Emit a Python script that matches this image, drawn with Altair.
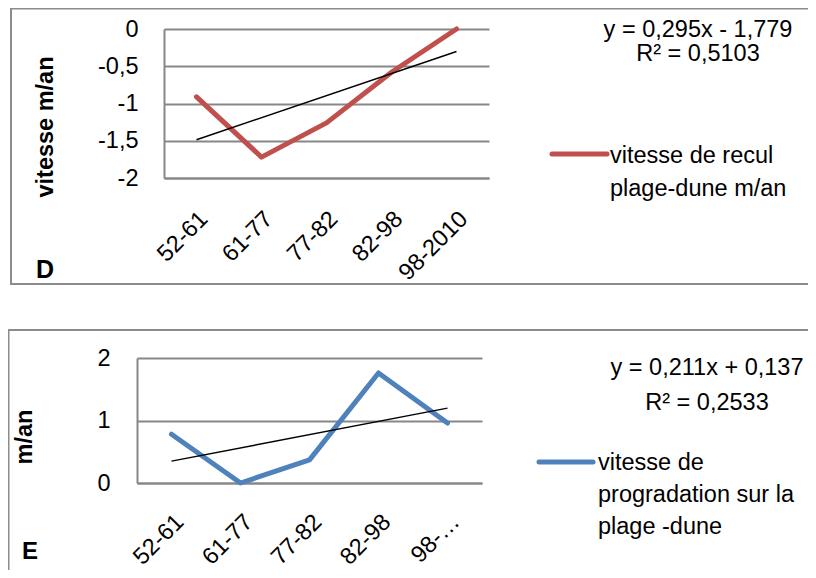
import altair as alt
import pandas as pd

# ---------------- data ----------------
periods = ["52-61", "61-77", "77-82", "82-98", "98-2010"]
period_index = [1, 2, 3, 4, 5]
recul = [-0.91, -1.72, -1.26, -0.58, 0.0]          # panel D
progradation = [0.78, 0.0, 0.37, 1.76, 0.96]       # panel E
ticks_d = [-2, -1.5, -1, -0.5, 0]
ticks_e = [0, 1, 2]
equation_d = ["y = 0,295x - 1,779", "R² = 0,5103"]
equation_e = ["y = 0,211x + 0,137", "R² = 0,2533"]
legend_d = ["vitesse de recul", "plage-dune m/an"]
legend_e = ["vitesse de", "progradation sur la", "plage -dune"]
ytitle_d = "vitesse m/an"
ytitle_e = "m/an"
panel_names = ["D", "E"]

# ---------------- style ----------------
FONT = "Liberation Sans"
RED = "#C0504D"
BLUE = "#4F81BD"
GRID = "#878787"
BOX = "#8C8C8C"
W, H = 800, 562
FS = 23.5

df_d = pd.DataFrame({"periode": periods, "idx": period_index, "v": recul})
df_e = pd.DataFrame({"periode": periods, "idx": period_index, "v": progradation})
one = pd.DataFrame({"k": [0]})


def panel(df, color, xr, yr, ydom, yticks, xoff, yoff, xlpad, xloff, ylpad, xlabel_expr):
    x = alt.X(
        "periode:N", sort=periods,
        scale=alt.Scale(type="point", range=xr, padding=0.5),
        axis=alt.Axis(orient="bottom", offset=xoff, title=None, grid=False,
                      ticks=False, tickSize=0, domainColor=GRID, domainWidth=2,
                      labelAngle=-45, labelAlign="right", labelBaseline="middle",
                      labelPadding=xlpad, labelOffset=xloff, labelFont=FONT,
                      labelFontSize=FS, labelColor="black", labelExpr=xlabel_expr),
    )
    y = alt.Y(
        "v:Q",
        scale=alt.Scale(domain=ydom, range=yr, nice=False, zero=False),
        axis=alt.Axis(orient="left", offset=yoff, title=None, values=yticks,
                      grid=True, gridColor=GRID, gridWidth=2, ticks=False, tickSize=0,
                      domainColor=GRID, domainWidth=2, labelPadding=ylpad,
                      labelFont=FONT, labelFontSize=FS, labelColor="black",
                      labelExpr="replace(toString(datum.value), '.', ',')"),
    )
    line = alt.Chart(df).mark_line(
        color=color, strokeWidth=5, strokeCap="round", strokeJoin="round"
    ).encode(x=x, y=y)
    trend = (
        alt.Chart(df)
        .transform_regression("idx", "v", extent=[1, 5])
        .transform_lookup(lookup="idx", from_=alt.LookupData(df, "idx", ["periode"]))
        .mark_line(color="black", strokeWidth=1.5)
        .encode(x=x, y=y)
    )
    return alt.layer(line, trend)


def box(x_left, y_top, y_bot):
    return alt.Chart(one).mark_rect(fillOpacity=0, stroke=BOX, strokeWidth=2).encode(
        x=alt.value(x_left), x2=alt.value(W + 30), y=alt.value(y_top), y2=alt.value(y_bot)
    )


def text(lines, x, y, size=FS, bold=False, align="left", lh=None, angle=None,
         baseline="alphabetic"):
    kw = dict(font=FONT, fontSize=size, align=align, baseline=baseline, color="black")
    if bold:
        kw["fontWeight"] = "bold"
    if lh:
        kw["lineHeight"] = lh
    if angle is not None:
        kw["angle"] = angle
    return alt.Chart(one).mark_text(**kw).encode(
        x=alt.value(x), y=alt.value(y), text=alt.value(lines)
    )


def legend_line(color, x1, x2, y):
    return alt.Chart(one).mark_rule(color=color, strokeWidth=5, strokeCap="round").encode(
        x=alt.value(x1), x2=alt.value(x2), y=alt.value(y)
    )


panel_d = panel(df_d, RED, [156, 481], [170, 21], [-2, 0], ticks_d,
                xoff=170 - H, yoff=-156, xlpad=37, xloff=7, ylpad=26,
                xlabel_expr="datum.label")
panel_e = panel(df_e, BLUE, [129, 474], [475, 350], [0, 2], ticks_e,
                xoff=475 - H, yoff=-129, xlpad=35, xloff=8, ylpad=27,
                xlabel_expr="length(datum.label) > 5 ? slice(datum.label, 0, 3) + '…' : datum.label")

layers = [
    box(3, 0.5, 276),
    box(0.5, 322, H + 40),
    panel_d,
    panel_e,
    text(equation_d, 690, 29, align="center", lh=24),
    text(equation_e, 699, 367, align="center", lh=35),
    legend_line(RED, 544, 599, 146),
    text(legend_d, 602, 155, lh=33),
    legend_line(BLUE, 531, 585, 454),
    text(legend_e, 590, 462, lh=32),
    text(ytitle_d, 38, 119, bold=True, align="center", angle=270, baseline="middle"),
    text(ytitle_e, 17, 429, bold=True, align="center", angle=270, baseline="middle"),
    text(panel_names[0], 37, 270, size=25, bold=True, align="center"),
    text(panel_names[1], 22, 551, size=24, bold=True, align="center"),
]

chart = (
    alt.layer(*layers)
    .resolve_scale(x="independent", y="independent")
    .properties(width=W, height=H, autosize=alt.AutoSizeParams(type="none"), padding=0,
                background="white")
    .configure_view(stroke="transparent")
)

chart.save("out.html", embed_options={"renderer": "svg", "actions": False})
